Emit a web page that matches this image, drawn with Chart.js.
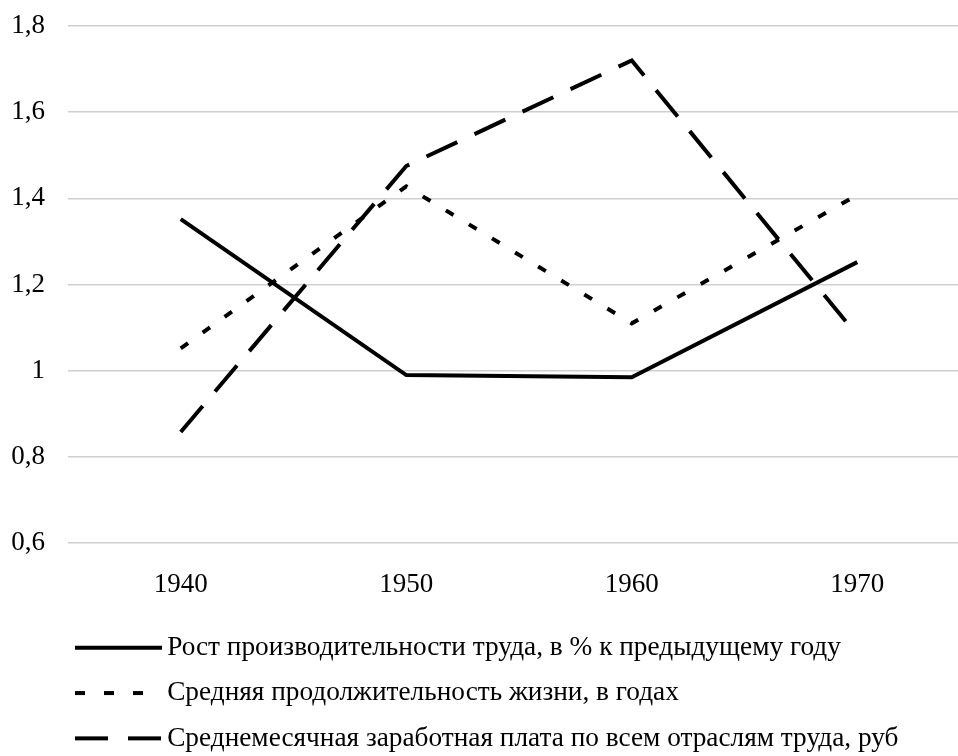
<!DOCTYPE html>
<html>
<head>
<meta charset="utf-8">
<script src="https://cdn.jsdelivr.net/npm/chart.js@4/dist/chart.umd.min.js"></script>
<style>
  body { margin: 0; overflow: hidden; background: #fff; }
</style>
</head>
<body>
<canvas id="myChart" width="970" height="756"></canvas>
<script>
'use strict';
const years = ['1940', '1950', '1960', '1970'];
const productivity = [1.352, 0.99, 0.985, 1.252];
const lifeExpectancy = [1.052, 1.428, 1.11, 1.408];
const salary = [0.858, 1.475, 1.72, 1.082];
const seriesNames = [
  'Рост производительности труда, в % к предыдущему году',
  'Средняя продолжительность жизни, в годах',
  'Среднемесячная заработная плата по всем отраслям труда, руб'
];
const yMin = 0.6;
const yMax = 1.8;
const yStep = 0.2;

const serif = '"Liberation Serif", "Times New Roman", serif';

// little canvases used as legend symbols, so the dashes start at the left end
function lineSymbol(dash) {
  let c = document.createElement('canvas');
  c.width = 87;
  c.height = 6;
  let g = c.getContext('2d');
  g.strokeStyle = '#000';
  g.lineWidth = 4;
  g.setLineDash(dash);
  g.beginPath();
  g.moveTo(0, 3);
  g.lineTo(87, 3);
  g.stroke();
  return c;
}
const legendSymbols = [lineSymbol([]), lineSymbol([10, 19]), lineSymbol([33, 20])];

const moveLegend = {
  id: 'moveLegend',
  afterLayout(chart) {
    chart.legend.left += 65.5;
    chart.legend.top += 6;
  }
};

let ctx = document.getElementById('myChart').getContext('2d');
let chart = new Chart(ctx, {
  type: 'line',
  data: {
    labels: years,
    datasets: [{
      label: seriesNames[0],
      data: productivity,
      borderColor: '#000',
      backgroundColor: '#000',
      borderWidth: 4,
      pointRadius: 0
    },
    {
      label: seriesNames[1],
      data: lifeExpectancy,
      borderColor: '#000',
      backgroundColor: '#000',
      borderWidth: 4,
      borderDash: [9, 18],
      pointRadius: 0
    },
    {
      label: seriesNames[2],
      data: salary,
      borderColor: '#000',
      backgroundColor: '#000',
      borderWidth: 4,
      borderDash: [34, 19],
      pointRadius: 0
    }]
  },
  options: {
    responsive: false,
    animation: false,
    devicePixelRatio: 1,
    layout: { padding: { top: 26, right: 0, left: 0, bottom: 0 } },
    plugins: {
      tooltip: { enabled: false },
      legend: {
        position: 'bottom',
        align: 'start',
        labels: {
          usePointStyle: true,
          pointStyleWidth: 70,
          padding: 18,
          color: '#000',
          font: { family: serif, size: 27.3 },
          generateLabels(chart) {
            let items = Chart.defaults.plugins.legend.labels.generateLabels(chart);
            for (let i = 0; i < items.length; i++) {
              items[i].pointStyle = legendSymbols[i];
            }
            return items;
          }
        }
      }
    },
    scales: {
      x: {
        offset: true,
        grid: { display: false },
        border: { display: false },
        ticks: {
          color: '#000',
          padding: 18,
          font: { family: serif, size: 27 }
        },
        afterFit(scale) {
          scale.height = 67;
        }
      },
      y: {
        min: yMin,
        max: yMax,
        border: { display: false },
        grid: { color: '#cfcfcf', lineWidth: 1.5, drawTicks: false },
        ticks: {
          stepSize: yStep,
          padding: 23,
          color: '#000',
          font: { family: serif, size: 27 },
          callback: function (value) {
            return String(Math.round(value * 10) / 10).replace('.', ',');
          }
        },
        afterFit(scale) {
          scale.width = 68;
          scale.paddingTop = 0;
          scale.paddingBottom = 0;
        }
      }
    }
  },
  plugins: [moveLegend]
});
</script>
</body>
</html>
